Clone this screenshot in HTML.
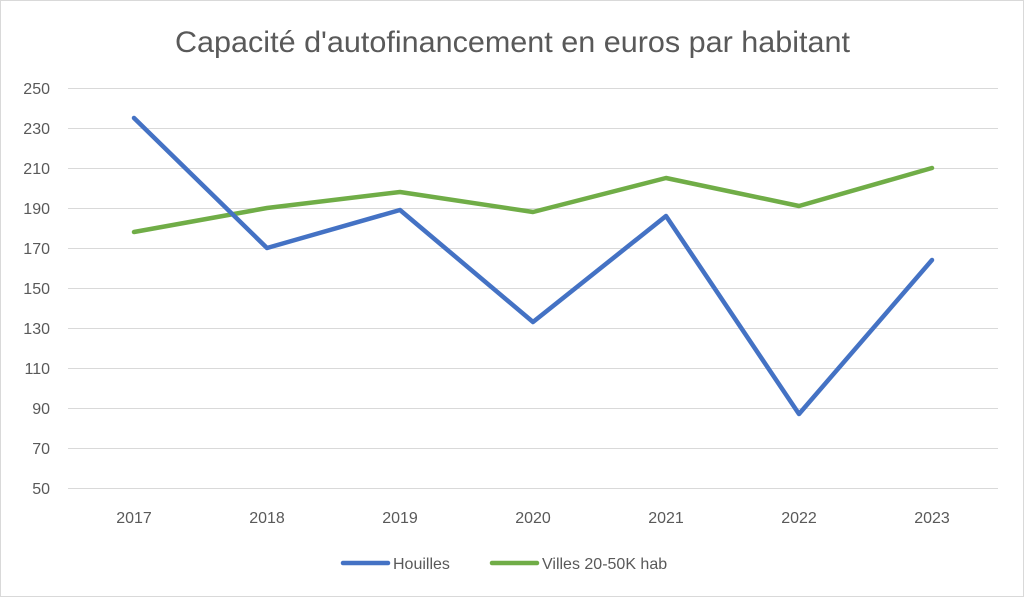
<!DOCTYPE html>
<html><head><meta charset="utf-8"><style>
html,body{margin:0;padding:0;background:#fff;}
svg{display:block;font-family:"Liberation Sans",sans-serif;}
</style></head><body>
<svg width="1024" height="598" viewBox="0 0 1024 598" xmlns="http://www.w3.org/2000/svg">
<rect x="0.5" y="0.5" width="1023" height="596" fill="#fff" stroke="#d9d9d9"/>
<text x="175" y="52" font-size="30" fill="#595959" textLength="675" lengthAdjust="spacingAndGlyphs">Capacité d'autofinancement en euros par habitant</text>
<g stroke="#d9d9d9" stroke-width="1">
<line x1="68" x2="998" y1="88.5" y2="88.5"/><line x1="68" x2="998" y1="128.5" y2="128.5"/>
<line x1="68" x2="998" y1="168.5" y2="168.5"/><line x1="68" x2="998" y1="208.5" y2="208.5"/>
<line x1="68" x2="998" y1="248.5" y2="248.5"/><line x1="68" x2="998" y1="288.5" y2="288.5"/>
<line x1="68" x2="998" y1="328.5" y2="328.5"/><line x1="68" x2="998" y1="368.5" y2="368.5"/>
<line x1="68" x2="998" y1="408.5" y2="408.5"/><line x1="68" x2="998" y1="448.5" y2="448.5"/>
<line x1="68" x2="998" y1="488.5" y2="488.5"/>
</g>
<g font-size="16" fill="#595959" text-anchor="end">
<text x="50" y="94">250</text><text x="50" y="134">230</text><text x="50" y="174">210</text>
<text x="50" y="214">190</text><text x="50" y="254">170</text><text x="50" y="294">150</text>
<text x="50" y="334">130</text><text x="50" y="374">110</text><text x="50" y="414">90</text>
<text x="50" y="454">70</text><text x="50" y="494">50</text>
</g>
<g font-size="16" fill="#595959" text-anchor="middle">
<text x="134" y="523">2017</text><text x="267" y="523">2018</text><text x="400" y="523">2019</text>
<text x="533" y="523">2020</text><text x="666" y="523">2021</text><text x="799" y="523">2022</text>
<text x="932" y="523">2023</text>
</g>
<polyline fill="none" stroke="#70ad47" stroke-width="4.5" stroke-linejoin="round" stroke-linecap="round"
 points="134,232 267,208 400,192 533,212 666,178 799,206 932,168"/>
<polyline fill="none" stroke="#4472c4" stroke-width="4.5" stroke-linejoin="round" stroke-linecap="round"
 points="134,118 267,248 400,210 533,322 666,216 799,414 932,260"/>
<line x1="343" x2="388" y1="563" y2="563" stroke="#4472c4" stroke-width="4.5" stroke-linecap="round"/>
<text x="393" y="569" font-size="16" fill="#595959">Houilles</text>
<line x1="492" x2="537" y1="563" y2="563" stroke="#70ad47" stroke-width="4.5" stroke-linecap="round"/>
<text x="542" y="569" font-size="16" fill="#595959">Villes 20-50K hab</text>
</svg>
</body></html>
